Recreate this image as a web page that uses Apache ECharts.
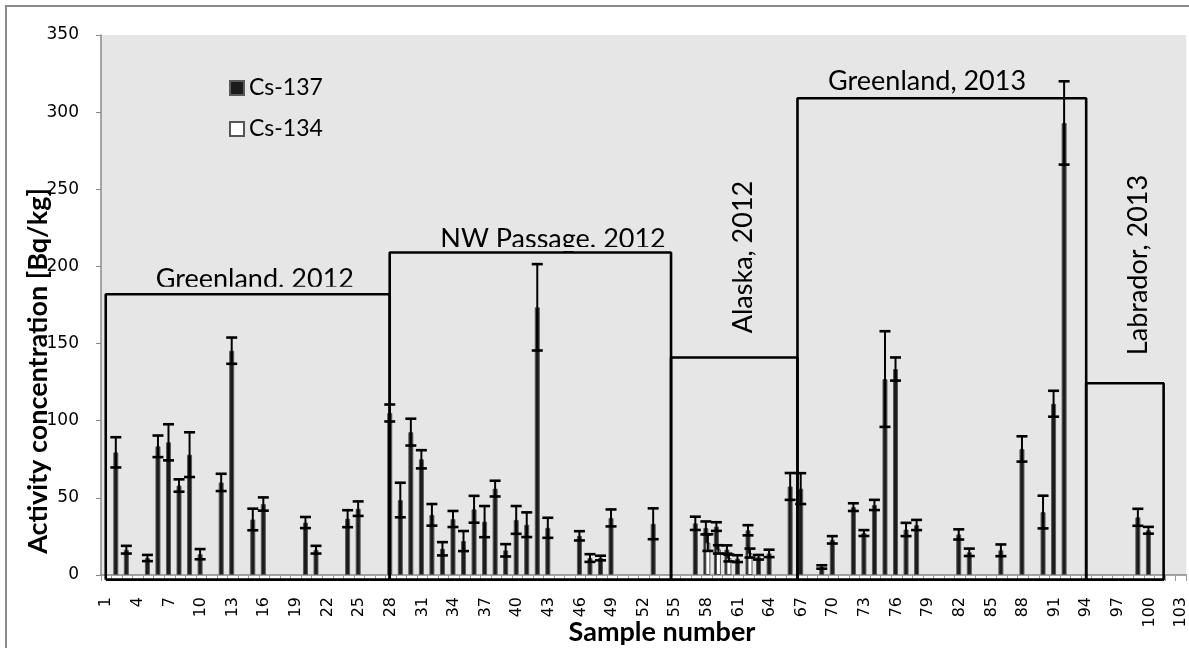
<!DOCTYPE html>
<html><head><meta charset="utf-8">
<script src="https://cdn.jsdelivr.net/npm/echarts@6/dist/echarts.min.js"></script>
<style>html,body{margin:0;padding:0;background:#fff}#c{width:1189px;height:648px}</style>
</head><body><div id="c"></div>
<script>
const categories = ['1','2','3','4','5','6','7','8','9','10','11','12','13','14','15','16','17','18','19','20','21','22','23','24','25','26','27','28','29','30','31','32','33','34','35','36','37','38','39','40','41','42','43','44','45','46','47','48','49','50','51','52','53','54','55','56','57','58','59','60','61','62','63','64','65','66','67','68','69','70','71','72','73','74','75','76','77','78','79','80','81','82','83','84','85','86','87','88','89','90','91','92','93','94','95','96','97','98','99','100','101','102','103'];
const yTicks = [0, 50, 100, 150, 200, 250, 300, 350];

const cs137Samples = [2,3,5,6,7,8,9,10,12,13,15,16,20,21,24,25,28,29,30,31,32,33,34,35,36,37,38,39,40,41,42,43,46,47,48,49,53,57,58,59,60,61,62,63,64,66,67,69,70,72,73,74,75,76,77,78,82,83,86,88,90,91,92,99,100];
const cs137Values = [79.5,16.4,11,83.4,86,58,78,13.5,60,145.4,36,46,34,16.4,36.5,43,105,48.6,92.6,75,39,17,36.3,22,42.6,34.6,56,16,35.7,32.6,173.5,30.6,25.4,11,11,37,33.2,33.5,30.5,31.4,16.5,10.6,29,11.5,14,57.4,56,5.2,22.8,44,27.2,45.4,127,133.5,29.5,32.4,26.3,14.7,16,81.7,40.8,111,293,37.4,29];
const cs137Errors = [9.8,2.5,2,7,11.7,4,14.5,3.3,5.6,8.5,7,4.3,3.6,2.5,5.5,4.7,5.5,11.2,8.7,5.9,7,4.3,5.2,6.5,8.7,10.1,5.1,4,9,8,28,6.5,3,2.5,1.5,5.5,10,4.3,4.2,2.8,2.7,2.2,3.3,1.5,2.4,8.7,10,1.1,2.4,2.5,1.9,3.3,31,7.5,4.3,3.3,3.3,2.4,3.8,8.2,10.6,8.4,27,5.5,2.2];

const cs134Samples = [58,59,60,62];
const cs134Values = [21,16.6,11,14.2];
const cs134Errors = [5.4,2.7,2.2,2.9];

const regionNames = ['Greenland. 2012','NW Passage. 2012','Alaska, 2012','Greenland, 2013','Labrador, 2013'];
const regionStart = [0.95, 27.9, 54.6, 66.6, 94.0];
const regionEnd = [27.9, 54.6, 66.6, 94.0, 101.35];
const regionTop = [182, 209, 141, 309, 124.3];
const regionBottom = -3;
const regionLabelX = [15.1, 43.4, 61.5, 78.9, 98.9];

const FONT = 'Lato';

function fullSeries(samples, values) {
  const arr = categories.map(() => null);
  samples.forEach((s, k) => { arr[s - 1] = values[k]; });
  return arr;
}
function errData(samples, values, errors) {
  return samples.map((s, k) => [s - 1, values[k], errors[k]]);
}
function errRender(offset) {
  return function (params, api) {
    const i = api.value(0), v = api.value(1), e = api.value(2);
    const hi = api.coord([i, v + e]);
    const lo = api.coord([i, v - e]);
    const x = hi[0] + offset;
    const cap = 5.5;
    const s1 = { stroke: '#000', lineWidth: 2 };
    const s2 = { stroke: '#000', lineWidth: 2.6 };
    return {
      type: 'group',
      children: [
        { type: 'line', shape: { x1: x, y1: hi[1], x2: x, y2: lo[1] }, style: s1 },
        { type: 'line', shape: { x1: x - cap, y1: hi[1], x2: x + cap, y2: hi[1] }, style: s2 },
        { type: 'line', shape: { x1: x - cap, y1: lo[1], x2: x + cap, y2: lo[1] }, style: s2 }
      ]
    };
  };
}

const boxSeries = regionNames.map((n, k) => ({
  type: 'line', name: 'box' + k, xAxisIndex: 1, yAxisIndex: 0,
  data: [[regionStart[k], regionBottom], [regionStart[k], regionTop[k]], [regionEnd[k], regionTop[k]], [regionEnd[k], regionBottom], [regionStart[k], regionBottom]],
  symbol: 'none', clip: false, silent: true, z: 5,
  lineStyle: { color: '#000', width: 2.6 }
}));

const chart = echarts.init(document.getElementById('c'), null, { renderer: 'canvas' });
const option = {
  animation: false,
  backgroundColor: '#fff',
  grid: { left: 101, right: 0, top: 35, bottom: 73, show: true, backgroundColor: '#e6e6e6', borderWidth: 0 },
  legend: {
    data: ['Cs-137', 'Cs-134'], orient: 'vertical', left: 224, top: 71,
    itemWidth: 14, itemHeight: 14, itemGap: 17, icon: 'rect',
    textStyle: { fontFamily: FONT, fontSize: 23, color: '#000', lineHeight: 24 }
  },
  xAxis: [{
    type: 'category', data: categories, boundaryGap: true,
    axisLine: { show: true, lineStyle: { color: '#888', width: 1.5 } },
    axisTick: { show: true, interval: 0, length: 6, lineStyle: { color: '#999' } },
    axisLabel: { interval: 2, rotate: 90, margin: 22, fontFamily: 'DejaVu Sans', fontSize: 16, color: '#000' },
    splitLine: { show: false }
  }, {
    type: 'value', min: 0.5, max: 103.5, show: false
  }],
  yAxis: {
    type: 'value', min: yTicks[0], max: yTicks[yTicks.length - 1], interval: 50,
    axisLine: { show: true, lineStyle: { color: '#888', width: 1.5 } },
    axisTick: { show: true, length: 5, lineStyle: { color: '#888' } },
    axisLabel: { margin: 22, fontFamily: 'DejaVu Sans', fontSize: 17, color: '#000' },
    splitLine: { show: false }
  },
  series: [
    {
      type: 'bar', name: 'Cs-137', data: fullSeries(cs137Samples, cs137Values),
      barWidth: 5, barGap: '-60%', z: 3,
      itemStyle: { color: '#1c1c1c', borderColor: '#5a5a5a', borderWidth: 1 }
    },
    {
      type: 'bar', name: 'Cs-134', data: fullSeries(cs134Samples, cs134Values),
      barWidth: 5, z: 3,
      itemStyle: { color: '#ffffff', borderColor: '#555', borderWidth: 1 }
    },
    { type: 'custom', name: 'err137', renderItem: errRender(-1), data: errData(cs137Samples, cs137Values, cs137Errors), z: 4, encode: { x: 0, y: 1 } },
    { type: 'custom', name: 'err134', renderItem: errRender(1), data: errData(cs134Samples, cs134Values, cs134Errors), z: 4, encode: { x: 0, y: 1 } }
  ].concat(boxSeries)
};
chart.setOption(option);

function px(x, y) { return chart.convertToPixel({ xAxisIndex: 1, yAxisIndex: 0 }, [x, y]); }
const g0 = px(regionLabelX[0], regionTop[0]);
const g1 = px(regionLabelX[1], regionTop[1]);
const g2 = px(regionLabelX[2], 0);
const g3 = px(regionLabelX[3], regionTop[3]);
const g4 = px(regionLabelX[4], 0);
const lbl = (x, y, t, rot) => ({
  type: 'text', x: x, y: y, rotation: rot || 0, z: 10,
  style: { text: t, font: '27px ' + FONT, fill: '#000', align: 'center', verticalAlign: 'middle' }
});
chart.setOption({
  graphic: [
    { type: 'rect', shape: { x: 6, y: 6, width: 1200, height: 660 }, style: { fill: 'none', stroke: '#8a8a8a', lineWidth: 2 }, z: 30 },
    lbl(g0[0], g0[1] - 15, regionNames[0]),
    lbl(g1[0], g1[1] - 13, regionNames[1]),
    lbl(g2[0], 257, regionNames[2], Math.PI / 2),
    lbl(g3[0], g3[1] - 17, regionNames[3]),
    lbl(g4[0], 265, regionNames[4], Math.PI / 2),
    { type: 'rect', z: 11, shape: { x: g0[0] - 110, y: g0[1] - 7.5, width: 220, height: 6 }, style: { fill: '#e6e6e6' } },
    { type: 'rect', z: 11, shape: { x: g1[0] - 115, y: g1[1] - 5.5, width: 230, height: 4 }, style: { fill: '#e6e6e6' } },
    { type: 'text', x: 38, y: 371, rotation: Math.PI / 2, z: 20,
      style: { text: 'Activity concentration [Bq/kg]', font: 'bold 27px ' + FONT, fill: '#000', align: 'center', verticalAlign: 'middle' } },
    { type: 'text', x: 662, y: 632, z: 20,
      style: { text: 'Sample number', font: 'bold 27px ' + FONT, fill: '#000', align: 'center', verticalAlign: 'middle' } }
  ]
});
</script></body></html>
